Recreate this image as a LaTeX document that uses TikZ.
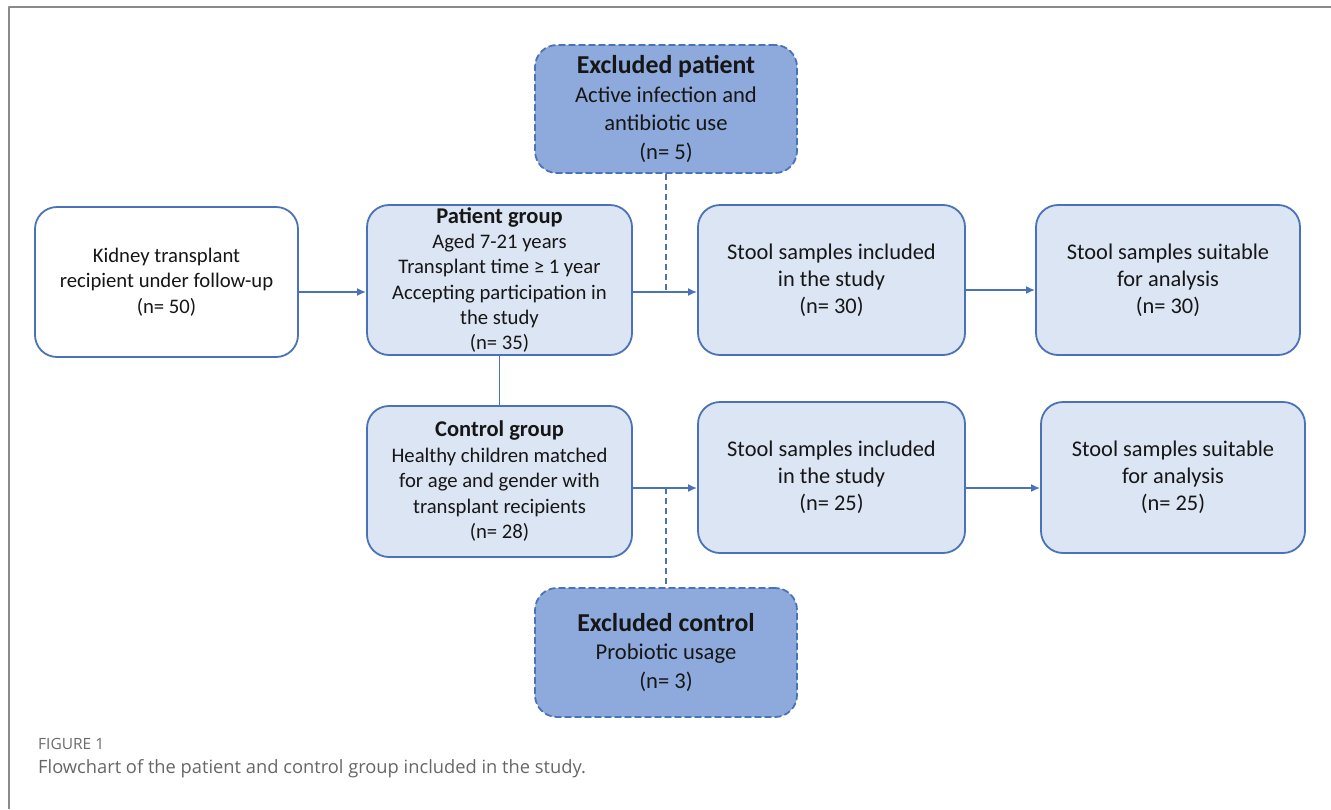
\documentclass[tikz,border=0pt]{standalone}
\usepackage{fontspec}
\usetikzlibrary{arrows.meta}
\setmainfont{Carlito}
\newfontfamily\capfont{Open Sans}
\definecolor{boxline}{HTML}{4A72B8}
\definecolor{boxfill}{HTML}{DCE5F4}
\definecolor{exfill}{HTML}{8EAADC}
\definecolor{textdark}{HTML}{161616}
\definecolor{framegray}{HTML}{8A8A8A}
\begin{document}
\begin{tikzpicture}[x=1pt,y=-1pt,line cap=round,line join=round,>=latex,
  box/.style={draw=boxline,line width=1.8pt,rounded corners=22pt,fill=boxfill,
    align=center,inner sep=2pt,text=textdark,font=\fontsize{20.7}{25.3}\selectfont,
    minimum width=265pt,minimum height=150pt},
  startbox/.style={box,fill=white},
  stoolbox/.style={box,font=\fontsize{22.4}{27}\selectfont},
  exbox/.style={box,fill=exfill,dash pattern=on 6pt off 4pt,
    minimum width=262pt,minimum height=128pt,font=\fontsize{22.6}{28.5}\selectfont},
  conn/.style={draw=boxline,line width=1.8pt},
  arr/.style={conn,-{Latex[length=9pt,width=8pt]}},
  dashconn/.style={conn,dash pattern=on 6pt off 4pt,line cap=butt}]
  \useasboundingbox (0,0) rectangle (1331,809);
  % frame
  \draw[framegray,line width=2pt,line cap=butt] (1331,7) -- (9,7) -- (9,809);
  % upper row
  \node[startbox,minimum width=263pt] (kidney) at (166.5,282)
    {Kidney transplant\\recipient under follow-up\\(n= 50)};
  \node[box] (patient) at (499.5,280)
    {{\fontsize{22.5}{25}\selectfont\bfseries Patient group}\\Aged 7-21 years\\Transplant time ≥ 1 year\\Accepting participation in\\the study\\(n= 35)};
  \node[stoolbox,minimum width=267pt] (stoolA) at (831.5,280)
    {Stool samples included\\in the study\\(n= 30)};
  \node[stoolbox,minimum width=264pt] (suitA) at (1168,280)
    {Stool samples suitable\\for analysis\\(n= 30)};
  % lower row
  \node[box,minimum height=151pt,font=\fontsize{20.7}{25.5}\selectfont] (control) at (499.5,481.5)
    {{\fontsize{22.5}{25}\selectfont\bfseries Control group}\\Healthy children matched\\for age and gender with\\transplant recipients\\(n= 28)};
  \node[stoolbox,minimum width=267pt,minimum height=151pt] (stoolB) at (831.5,477.5)
    {Stool samples included\\in the study\\(n= 25)};
  \node[stoolbox,minimum width=264pt,minimum height=151pt] (suitB) at (1173,477.5)
    {Stool samples suitable\\for analysis\\(n= 25)};
  % exclusions
  \node[exbox] (exP) at (666,109)
    {{\fontsize{25.8}{29}\selectfont\bfseries Excluded patient}\\Active infection and\\antibiotic use\\(n= 5)};
  \node[exbox,minimum height=129pt] (exC) at (666,652.5)
    {{\fontsize{25.8}{29}\selectfont\bfseries Excluded control}\\Probiotic usage\\(n= 3)};
  % connectors
  \coordinate (rowA) at (0,292);
  \coordinate (rowB) at (0,488);
  \coordinate (jP) at (exP.south |- rowA);
  \coordinate (jC) at (exC.north |- rowB);
  \draw[arr] (kidney.east |- rowA) -- (patient.west |- rowA);
  \draw[arr] (patient.east |- rowA) -- (stoolA.west |- rowA);
  \draw[arr] (stoolA.east |- 0,290) -- (suitA.west |- 0,290);
  \draw[dashconn] (exP.south) -- (jP);
  \draw[conn] (patient.south) -- (control.north);
  \draw[arr] (control.east |- rowB) -- (stoolB.west |- rowB);
  \draw[arr] (stoolB.east |- rowB) -- (suitB.west |- rowB);
  \draw[dashconn] (jC) -- (exC.north);
  % caption
  \node[anchor=base west,inner sep=0pt,text=black!58,font=\capfont\fontsize{15.5}{18}\selectfont] (figno) at (38,749) {FIGURE 1};
  \node[anchor=base west,inner sep=0pt,text=black!60,font=\capfont\fontsize{18.3}{22}\selectfont] (caption) at (38,773)
    {Flowchart of the patient and control group included in the study.};
\end{tikzpicture}
\end{document}
